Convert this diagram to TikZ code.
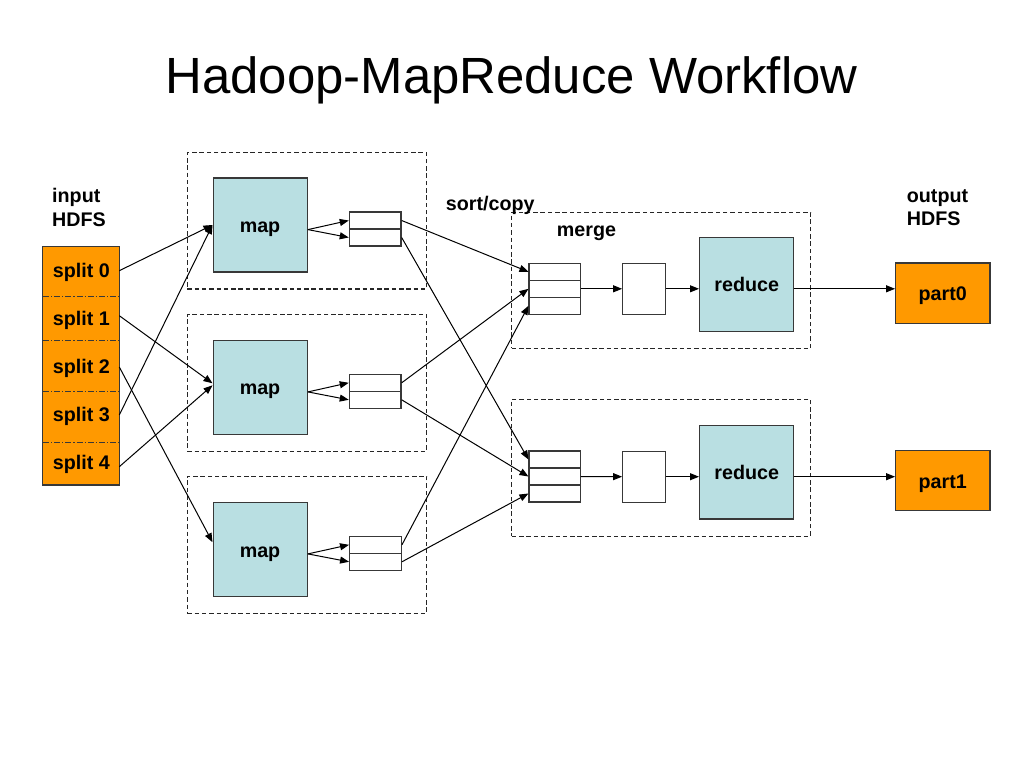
\documentclass[tikz,border=0pt]{standalone}
\usepackage{fontspec}
\setmainfont{Liberation Sans}
\usetikzlibrary{arrows.meta,calc}
\definecolor{mapblue}{HTML}{B9DFE2}
\definecolor{hdfsorange}{HTML}{FF9900}
\definecolor{edgegray}{HTML}{383838}
\begin{document}
\begin{tikzpicture}[x=1pt,y=-1pt,
  lbl/.style={font=\fontsize{19.7}{23}\selectfont\bfseries, inner sep=0},
  group/.style={draw=black!85, line width=1.1pt, dash pattern=on 4.5pt off 2.8pt, minimum width=239.4pt, inner sep=0},
  rgroup/.style={group, minimum width=299pt},
  mapbox/.style={draw=edgegray, line width=1.4pt, fill=mapblue, minimum width=94pt, minimum height=94pt, inner sep=0},
  redbox/.style={mapbox, minimum width=93.6pt, minimum height=93.6pt},
  cell/.style={draw=edgegray, line width=1.2pt, fill=white, minimum width=51.7pt, minimum height=17pt, inner sep=0},
  rcell/.style={cell, minimum width=51.3pt},
  smallbox/.style={draw=edgegray, line width=1.2pt, fill=white, minimum width=43pt, minimum height=51pt, inner sep=0},
  partbox/.style={draw=edgegray, line width=1.2pt, fill=hdfsorange, minimum width=94.3pt, minimum height=60.3pt, inner sep=0},
  arr/.style={line width=1pt, -{Triangle[length=9pt,width=7pt]}},
  divider/.style={draw=edgegray, line width=1pt, dash pattern=on 6pt off 2pt on 1.2pt off 2pt}
]
\useasboundingbox (0,0) rectangle (1024,768);

% title
\node[font=\fontsize{50.9}{60}\selectfont, anchor=base, inner sep=0] (title) at (511.5,93) {Hadoop-MapReduce Workflow};

% dashed groups
\node[group, minimum height=136.3pt] (g1) at (307,220.8) {};
\node[group, minimum height=136.7pt] (g2) at (307,382.7) {};
\node[group, minimum height=137.3pt] (g3) at (307,544.7) {};
\node[rgroup, minimum height=136pt] (rg1) at (661.2,280.3) {};
\node[rgroup, minimum height=136.7pt] (rg2) at (661.2,467.7) {};

% input column
\node[draw=edgegray, line width=1.2pt, fill=hdfsorange, minimum width=77pt, minimum height=238.3pt, inner sep=0] (col) at (80.8,365.9) {};
\draw[divider] (43,296.7) -- (118.6,296.7);
\draw[divider] (43,340.7) -- (118.6,340.7);
\draw[divider] (43,391.3) -- (118.6,391.3);
\draw[divider] (43,442.7) -- (118.6,442.7);
\node[lbl, anchor=base west] (sp0) at (52.7,277.3) {split 0};
\node[lbl, anchor=base west] (sp1) at (52.7,325.7) {split 1};
\node[lbl, anchor=base west] (sp2) at (52.7,373) {split 2};
\node[lbl, anchor=base west] (sp3) at (52.7,421.5) {split 3};
\node[lbl, anchor=base west] (sp4) at (52.7,469.3) {split 4};
\node[lbl, anchor=base west] (inlbl) at (52,202.7) {input};
\node[lbl, anchor=base west] (inlbl2) at (52,226) {HDFS};

\coordinate (o0) at (119.3,270.7);
\coordinate (o1) at (119.3,315.7);
\coordinate (o2) at (119.3,367);
\coordinate (o3) at (119.3,415);
\coordinate (o4) at (119.3,466.7);

% map boxes
\node[mapbox] (m1) at (260.2,225) {};
\node[mapbox] (m2) at (260.2,387.3) {};
\node[mapbox] (m3) at (260.2,549.2) {};
\node[lbl, anchor=base] (t1) at (260,232.7) {map};
\node[lbl, anchor=base] (t2) at (260,394.8) {map};
\node[lbl, anchor=base] (t3) at (260,557) {map};

% map output buffers
\node[cell] (b1a) at (375.2,220.5) {};
\node[cell] (b1b) at (375.2,237.5) {};
\node[cell] (b2a) at (375.2,382.8) {};
\node[cell] (b2b) at (375.2,399.8) {};
\node[cell] (b3a) at (375.5,544.8) {};
\node[cell] (b3b) at (375.5,561.8) {};

% reduce side
\node[rcell] (r1a) at (554.7,271.8) {};
\node[rcell] (r1b) at (554.7,288.8) {};
\node[rcell] (r1c) at (554.7,305.8) {};
\node[rcell] (r2a) at (554.7,459.5) {};
\node[rcell] (r2b) at (554.7,476.5) {};
\node[rcell] (r2c) at (554.7,493.5) {};
\node[smallbox] (sm1) at (644.2,288.8) {};
\node[smallbox] (sm2) at (644.2,476.7) {};
\node[redbox] (rd1) at (746.5,284.5) {};
\node[redbox] (rd2) at (746.5,472.3) {};
\node[lbl, anchor=base] (rt1) at (746.7,291.7) {reduce};
\node[lbl, anchor=base] (rt2) at (746.7,479.3) {reduce};

% outputs
\node[partbox] (p0) at (942.8,293.2) {};
\node[partbox] (p1) at (942.8,480.7) {};
\node[lbl, anchor=base] (pt0) at (942.7,300) {part0};
\node[lbl, anchor=base] (pt1) at (942.7,488.3) {part1};
\node[lbl, anchor=base west] (outlbl) at (906.7,202.7) {output};
\node[lbl, anchor=base west] (outlbl2) at (906.7,225.7) {HDFS};

% other labels
\node[lbl, anchor=base west] (sortlbl) at (445.7,210.7) {sort/copy};
\node[lbl, anchor=base west] (mergelbl) at (556.7,236.7) {merge};

% split -> map
\draw[arr] (o0) -- (m1.west);
\draw[arr] (o1) -- ($(m2.west)+(0,-4)$);
\draw[arr] (o2) -- ($(m3.west)+(0,-7)$);
\draw[arr] (o3) -- (m1.west);
\draw[arr] (o4) -- ($(m2.west)+(0,-2)$);

% map -> buffers
\draw[arr] (m1.east |- b1a.south) -- (b1a.west);
\draw[arr] (m1.east |- b1a.south) -- (b1b.west);
\draw[arr] (m2.east |- b2a.south) -- (b2a.west);
\draw[arr] (m2.east |- b2a.south) -- (b2b.west);
\draw[arr] (m3.east |- b3a.south) -- (b3a.west);
\draw[arr] (m3.east |- b3a.south) -- (b3b.west);

% shuffle
\draw[arr] (b1a.east) -- (r1a.west);
\draw[arr] (b1b.east) -- (r2a.west);
\draw[arr] (b2a.east) -- (r1b.west);
\draw[arr] (b2b.east) -- (r2b.west);
\draw[arr] (b3a.east) -- (r1c.west);
\draw[arr] (b3b.east) -- (r2c.west);

% merge -> reduce -> output
\draw[arr] (r1b.east) -- (sm1.west);
\draw[arr] (sm1.east) -- (sm1.east -| rd1.west);
\draw[arr] (sm1.east -| rd1.east) -- (sm1.east -| p0.west);
\draw[arr] (r2b.east) -- (sm2.west);
\draw[arr] (sm2.east) -- (sm2.east -| rd2.west);
\draw[arr] (sm2.east -| rd2.east) -- (sm2.east -| p1.west);
\end{tikzpicture}
\end{document}
